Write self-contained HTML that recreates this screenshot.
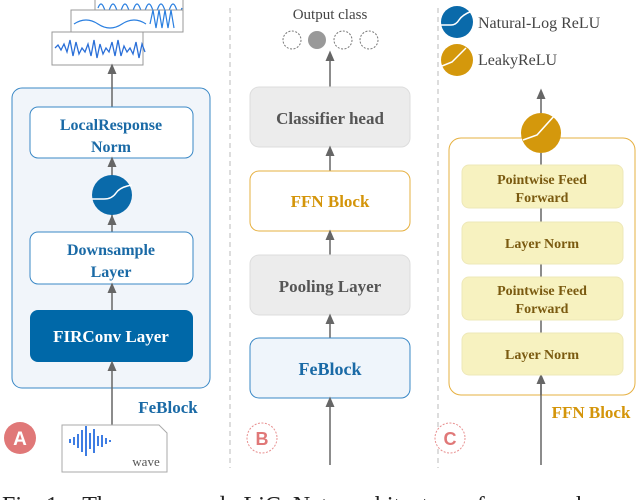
<!DOCTYPE html>
<html><head><meta charset="utf-8"><style>
html,body{margin:0;padding:0;background:#fff;width:640px;height:500px;overflow:hidden}
svg{display:block}
text{font-family:"Liberation Serif",serif}
</style></head><body>
<svg width="640" height="500" viewBox="0 0 640 500" xmlns="http://www.w3.org/2000/svg">
<defs>
<marker id="ah" markerWidth="8" markerHeight="8" refX="4" refY="4" orient="auto"><path d="M0,1 L7,4 L0,7 z" fill="#666"/></marker>
</defs>
<line x1="230" y1="8" x2="230" y2="468" stroke="#bbb" stroke-dasharray="5,4"/>
<line x1="438" y1="8" x2="438" y2="468" stroke="#bbb" stroke-dasharray="5,4"/>

<g>
<rect x="95" y="-5" width="88" height="27" fill="#fff" stroke="#999"/>
<path d="M98,8 q3,-8 6,0 t6,0 t6,0 t6,0 t6,0 t6,0 t6,0 t6,0 t6,0 t6,0 t6,0 t6,0 t6,0 t6,0" fill="none" stroke="#2a7fe0" stroke-width="1.2"/>
<rect x="71" y="10" width="112" height="22" fill="#fff" stroke="#999"/>
<path d="M74,24 q12,-8 24,0 t24,0 t24,0 M150,24 l3,-14 l3,18 l3,-18 l3,18 l3,-18 l3,18 l3,-18 l3,18" fill="none" stroke="#2a7fe0" stroke-width="1.2"/>
<rect x="52" y="32" width="91" height="33" fill="#fff" stroke="#999"/>
<path d="M55,48 l3,-3 l3,5 l3,-6 l3,8 l3,-12 l3,16 l3,-14 l3,12 l3,-6 l3,4 l3,-8 l3,12 l3,-16 l3,18 l3,-14 l3,10 l3,-6 l3,4 l3,-10 l3,14 l3,-16 l3,16 l3,-10 l3,6 l3,-4 l3,6 l3,-12 l3,16 l3,-14 l3,8" fill="none" stroke="#2a6fd8" stroke-width="1.3"/>
<rect x="12" y="88" width="198" height="300" rx="10" fill="#f1f5fa" stroke="#3a88c6"/>
<line x1="112" y1="107" x2="112" y2="68" stroke="#666" stroke-width="1.5" marker-end="url(#ah)"/>
<rect x="30" y="107" width="163" height="51" rx="8" fill="#fff" stroke="#3a88c6"/>
<text x="111" y="130" text-anchor="middle" font-size="16" font-weight="bold" fill="#1a6aa6">LocalResponse</text>
<text x="111" y="152" text-anchor="middle" font-size="16" font-weight="bold" fill="#1a6aa6">Norm</text>
<line x1="112" y1="218" x2="112" y2="161" stroke="#666" stroke-width="1.5" marker-end="url(#ah)"/>
<circle cx="112" cy="195" r="20" fill="#0a6aaa"/>
<path d="M92,199 h12 q8,0 12,-6 t16,-8" fill="none" stroke="#fff" stroke-width="1.5"/>
<line x1="112" y1="232" x2="112" y2="219" stroke="#666" stroke-width="1.5" marker-end="url(#ah)"/>
<rect x="30" y="232" width="163" height="52" rx="8" fill="#fff" stroke="#3a88c6"/>
<text x="111" y="255" text-anchor="middle" font-size="16" font-weight="bold" fill="#1a6aa6">Downsample</text>
<text x="111" y="277" text-anchor="middle" font-size="16" font-weight="bold" fill="#1a6aa6">Layer</text>
<line x1="112" y1="310" x2="112" y2="287" stroke="#666" stroke-width="1.5" marker-end="url(#ah)"/>
<rect x="30" y="310" width="163" height="52" rx="8" fill="#0068a8"/>
<text x="111" y="342" text-anchor="middle" font-size="17" font-weight="bold" fill="#fff">FIRConv Layer</text>
<line x1="112" y1="425" x2="112" y2="365" stroke="#666" stroke-width="1.5" marker-end="url(#ah)"/>
<text x="168" y="413" text-anchor="middle" font-size="17" font-weight="bold" fill="#1a6aa6">FeBlock</text>
<circle cx="20" cy="438" r="16" fill="#e07878"/>
<text x="20" y="445" text-anchor="middle" font-size="19" font-weight="bold" fill="#fff" style="font-family:'Liberation Sans',sans-serif">A</text>
<path d="M62,425 h97 l8,8 v39 h-105 z" fill="#fff" stroke="#aaa"/>
<path d="M70,439 v4 M74,437 v8 M78,434 v14 M82,430 v22 M86,426 v30 M90,433 v16 M94,429 v24 M98,436 v10 M102,435 v12 M106,438 v6 M110,440 v2" stroke="#2a6fe0" stroke-width="1.8"/>
<text x="146" y="466" text-anchor="middle" font-size="13" fill="#555">wave</text>
</g>

<g>
<text x="330" y="19" text-anchor="middle" font-size="15" fill="#444">Output class</text>
<circle cx="292" cy="40" r="9" fill="#fff" stroke="#777" stroke-dasharray="2,1.5"/>
<circle cx="317" cy="40" r="9" fill="#999"/>
<circle cx="343" cy="40" r="9" fill="#fff" stroke="#777" stroke-dasharray="2,1.5"/>
<circle cx="369" cy="40" r="9" fill="#fff" stroke="#777" stroke-dasharray="2,1.5"/>
<line x1="330" y1="87" x2="330" y2="55" stroke="#666" stroke-width="1.5" marker-end="url(#ah)"/>
<rect x="250" y="87" width="160" height="60" rx="9" fill="#ececec" stroke="#ddd"/>
<text x="330" y="124" text-anchor="middle" font-size="17" font-weight="bold" fill="#555">Classifier head</text>
<line x1="330" y1="171" x2="330" y2="150" stroke="#666" stroke-width="1.5" marker-end="url(#ah)"/>
<rect x="250" y="171" width="160" height="60" rx="9" fill="#fff" stroke="#e6b040"/>
<text x="330" y="207" text-anchor="middle" font-size="17" font-weight="bold" fill="#d4950a">FFN Block</text>
<line x1="330" y1="255" x2="330" y2="234" stroke="#666" stroke-width="1.5" marker-end="url(#ah)"/>
<rect x="250" y="255" width="160" height="60" rx="9" fill="#ececec" stroke="#ddd"/>
<text x="330" y="292" text-anchor="middle" font-size="17" font-weight="bold" fill="#555">Pooling Layer</text>
<line x1="330" y1="338" x2="330" y2="318" stroke="#666" stroke-width="1.5" marker-end="url(#ah)"/>
<rect x="250" y="338" width="160" height="60" rx="9" fill="#eff5fb" stroke="#3a88c6"/>
<text x="330" y="375" text-anchor="middle" font-size="18" font-weight="bold" fill="#1a6aa6">FeBlock</text>
<line x1="330" y1="465" x2="330" y2="401" stroke="#666" stroke-width="1.5" marker-end="url(#ah)"/>
<circle cx="262" cy="438" r="15" fill="#fff" stroke="#e89090" stroke-dasharray="2,1.5"/>
<text x="262" y="445" text-anchor="middle" font-size="18" font-weight="bold" fill="#e07878" style="font-family:'Liberation Sans',sans-serif">B</text>
</g>

<g>
<circle cx="457" cy="22" r="16" fill="#0a6aaa"/>
<path d="M441,25 h10 q5,0 8,-5 t13,-9" fill="none" stroke="#fff" stroke-width="1.5"/>
<text x="478" y="28" font-size="16" fill="#444">Natural-Log ReLU</text>
<circle cx="457" cy="60" r="16" fill="#d4980c"/>
<path d="M442,66 l10,-4 l14,-14" fill="none" stroke="#fff" stroke-width="1.5"/>
<text x="478" y="65" font-size="16" fill="#444">LeakyReLU</text>
<line x1="541" y1="113" x2="541" y2="93" stroke="#666" stroke-width="1.5" marker-end="url(#ah)"/>
<rect x="449" y="138" width="186" height="257" rx="12" fill="#fff" stroke="#e6b040"/>
<line x1="541" y1="395" x2="541" y2="153" stroke="#666" stroke-width="1.5"/>
<line x1="541" y1="465" x2="541" y2="378" stroke="#666" stroke-width="1.5" marker-end="url(#ah)"/>
<circle cx="541" cy="133" r="20" fill="#d4980c"/>
<path d="M523,140 l14,-5 l18,-20" fill="none" stroke="#fff" stroke-width="1.6"/>
<rect x="462" y="165" width="161" height="43" rx="7" fill="#f7f2c0" stroke="#eee8b8"/>
<text x="542" y="184" text-anchor="middle" font-size="14" font-weight="bold" fill="#7a5a10">Pointwise Feed</text>
<text x="542" y="202" text-anchor="middle" font-size="14" font-weight="bold" fill="#7a5a10">Forward</text>
<rect x="462" y="222" width="161" height="42" rx="7" fill="#f7f2c0" stroke="#eee8b8"/>
<text x="542" y="248" text-anchor="middle" font-size="14" font-weight="bold" fill="#7a5a10">Layer Norm</text>
<rect x="462" y="277" width="161" height="43" rx="7" fill="#f7f2c0" stroke="#eee8b8"/>
<text x="542" y="295" text-anchor="middle" font-size="14" font-weight="bold" fill="#7a5a10">Pointwise Feed</text>
<text x="542" y="313" text-anchor="middle" font-size="14" font-weight="bold" fill="#7a5a10">Forward</text>
<rect x="462" y="333" width="161" height="42" rx="7" fill="#f7f2c0" stroke="#eee8b8"/>
<text x="542" y="359" text-anchor="middle" font-size="14" font-weight="bold" fill="#7a5a10">Layer Norm</text>
<text x="591" y="418" text-anchor="middle" font-size="17" font-weight="bold" fill="#d4950a">FFN Block</text>
<circle cx="450" cy="438" r="15" fill="#fff" stroke="#e89090" stroke-dasharray="2,1.5"/>
<text x="450" y="445" text-anchor="middle" font-size="18" font-weight="bold" fill="#e07878" style="font-family:'Liberation Sans',sans-serif">C</text>
</g>

<text x="2" y="513" font-size="24" fill="#222" xml:space="preserve">Fig. 1:   The   proposed   LiCoNet   architecture   for   speech</text>
</svg>
</body></html>
